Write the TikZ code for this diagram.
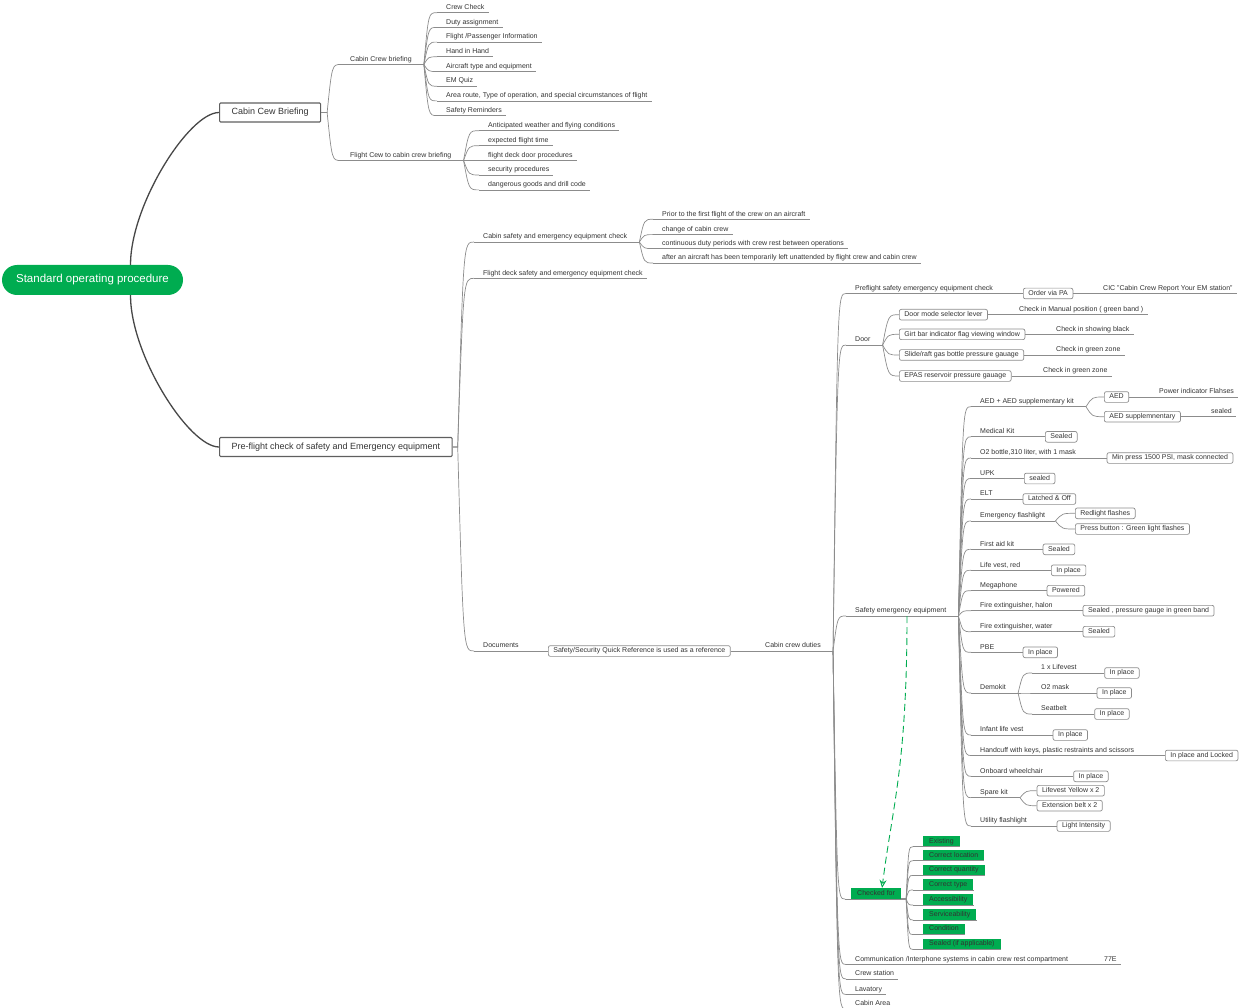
\documentclass[tikz,border=0pt]{standalone}
\usepackage{fontspec}
\setmainfont{Liberation Sans}
\usepackage{xcolor}
\usepackage{tikz}
\usetikzlibrary{positioning,arrows.meta,calc}

\definecolor{sopgreen}{RGB}{0,172,80}
\definecolor{inkgray}{RGB}{51,51,51}
\definecolor{wiregray}{RGB}{140,140,140}
\definecolor{framegray}{RGB}{95,95,95}

\begin{document}
\begin{tikzpicture}[
  x=1pt, y=-1pt,
  font=\fontsize{7}{8}\selectfont, text=inkgray,
  root/.style={fill=sopgreen, text=white, rounded corners=15pt, minimum height=30pt,
               minimum width=181pt, font=\fontsize{11.5}{13}\selectfont},
  topic/.style={draw=framegray, line width=1.1pt, rounded corners=1pt, anchor=west,
                minimum height=19pt, inner xsep=12pt, font=\fontsize{9}{11}\selectfont},
  uline/.style={draw=wiregray, line width=0.7pt},
  ul/.style={anchor=south west, inner xsep=0pt, inner ysep=1.5pt,
             text height=5.2pt, text depth=1.5pt,
             execute at begin node={\hspace*{9pt}},
             execute at end node={\hspace*{#1}},
             append after command={(\tikzlastnode.south west) edge[uline] (\tikzlastnode.south east)}},
  ul/.default=4pt,
  tag/.style={draw=wiregray, line width=0.7pt, rounded corners=2pt, anchor=west,
              inner xsep=5pt, inner ysep=2pt, text height=5.2pt, text depth=1.5pt},
  gtag/.style={fill=sopgreen, anchor=south west, inner xsep=6pt, inner ysep=2pt,
               text height=5.2pt, text depth=1.5pt,
               append after command={([xshift=-#1]\tikzlastnode.south west) edge[uline] (\tikzlastnode.south east)}},
  gtag/.default=10pt,
  br/.style={uline, to path={.. controls ($(\tikztostart|-\tikztotarget)!0.35!(\tikztotarget)$) .. (\tikztotarget) \tikztonodes}},
  trunk/.style={draw=black!72, line width=1.3pt},
  linkarr/.style={draw=sopgreen, line width=0.9pt, dash pattern=on 7pt off 4pt,
                  -{Stealth[open,length=8pt,width=7pt]}}
]
\useasboundingbox (0,0) rectangle (1240,1008);

% root and main topics
\node[root] (sop) at (92.5,280) {Standard operating procedure};
\node[topic] (ccb) at (219,112.5) {Cabin Cew Briefing};
\node[topic] (pre) at (219,447) {Pre-flight check of safety and Emergency equipment};

\draw[trunk] ([xshift=38pt]sop.north) .. controls +(0,-60) and +(-30,0) .. (ccb.west);
\draw[trunk] ([xshift=38pt]sop.south) .. controls +(0,60) and +(-30,0) .. (pre.west);

% Cabin Cew Briefing
\node[ul=12pt] (ccbr) at (341,64.5) {Cabin Crew briefing};
\node[ul=12pt] (fcbr) at (341,160.5) {Flight Cew to cabin crew briefing};
\draw[br] (ccb.east) -- ++(6,0) to (ccbr.south west);
\draw[br] (ccb.east) -- ++(6,0) to (fcbr.south west);

\node[ul] (cc1) at (437,12.7) {Crew Check};
\node[ul] (cc2) at (437,27.4) {Duty assignment};
\node[ul] (cc3) at (437,42.1) {Flight /Passenger Information};
\node[ul] (cc4) at (437,56.8) {Hand in Hand};
\node[ul] (cc5) at (437,71.5) {Aircraft type and equipment};
\node[ul] (cc6) at (437,86.2) {EM Quiz};
\node[ul] (cc7) at (437,100.9) {Area route, Type of operation, and special circumstances of flight};
\node[ul] (cc8) at (437,115.6) {Safety Reminders};
\draw[br] (ccbr.south east) to (cc1.south west);
\draw[br] (ccbr.south east) to (cc2.south west);
\draw[br] (ccbr.south east) to (cc3.south west);
\draw[br] (ccbr.south east) to (cc4.south west);
\draw[br] (ccbr.south east) to (cc5.south west);
\draw[br] (ccbr.south east) to (cc6.south west);
\draw[br] (ccbr.south east) to (cc7.south west);
\draw[br] (ccbr.south east) to (cc8.south west);

\node[ul] (fc1) at (479,130.7) {Anticipated weather and flying conditions};
\node[ul] (fc2) at (479,145.7) {expected flight time};
\node[ul] (fc3) at (479,160.5) {flight deck door procedures};
\node[ul] (fc4) at (479,175.0) {security procedures};
\node[ul] (fc5) at (479,189.9) {dangerous goods and drill code};
\draw[br] (fcbr.south east) to (fc1.south west);
\draw[br] (fcbr.south east) to (fc2.south west);
\draw[br] (fcbr.south east) to (fc3.south west);
\draw[br] (fcbr.south east) to (fc4.south west);
\draw[br] (fcbr.south east) to (fc5.south west);

% Pre-flight check
\node[ul=12pt] (csec) at (474,242) {Cabin safety and emergency equipment check};
\node[ul] (fdsec) at (474,278.3) {Flight deck safety and emergency equipment check};
\node[ul] (docs) at (474,651) {Documents};
\draw[br] (pre.east) -- ++(5,0) to (csec.south west);
\draw[br] (pre.east) -- ++(5,0) to (fdsec.south west);
\draw[br] (pre.east) -- ++(5,0) to (docs.south west);

\node[ul] (cs1) at (653,219.3) {Prior to the first flight of the crew on an aircraft};
\node[ul] (cs2) at (653,234.6) {change of cabin crew};
\node[ul] (cs3) at (653,248.6) {continuous duty periods with crew rest between operations};
\node[ul] (cs4) at (653,263) {after an aircraft has been temporarily left unattended by flight crew and cabin crew};
\draw[br] (csec.south east) to (cs1.south west);
\draw[br] (csec.south east) to (cs2.south west);
\draw[br] (csec.south east) to (cs3.south west);
\draw[br] (csec.south east) to (cs4.south west);

\node[tag] (sqr) at (548,651) {Safety/Security Quick Reference is used as a reference};
\node[ul=12pt] (ccd) at (756,651) {Cabin crew duties};
\draw[uline] (docs.south east) -- (sqr.west);
\draw[uline] (sqr.east) -- (ccd.south west);

% Cabin crew duties
\node[ul] (pfc) at (846,293.5) {Preflight safety emergency equipment check};
\node[ul=12pt] (door) at (846,345) {Door};
\node[ul=12pt] (see) at (846,616) {Safety emergency equipment};
\node[gtag=6pt] (chk) at (851,899) {Checked for};
\node[ul] (comm) at (846,964.5) {Communication /Interphone systems in cabin crew rest compartment};
\node[ul] (crew) at (846,979) {Crew station};
\node[ul] (lav) at (846,994.5) {Lavatory};
\node[ul] (carea) at (846,1009) {Cabin Area};
\draw[br] (ccd.south east) to (pfc.south west);
\draw[br] (ccd.south east) to (door.south west);
\draw[br] (ccd.south east) to (see.south west);
\draw[br] (ccd.south east) to ([xshift=-6pt]chk.south west);
\draw[br] (ccd.south east) to (comm.south west);
\draw[br] (ccd.south east) to (crew.south west);
\draw[br] (ccd.south east) to (lav.south west);
\draw[br] (ccd.south east) to (carea.south west);

\node[tag] (pa) at (1023,293.5) {Order via PA};
\node[ul] (cic) at (1094,293.5) {CIC "Cabin Crew Report Your EM station"};
\draw[uline] (pfc.south east) -- (pa.west);
\draw[uline] (pa.east) -- (cic.south west);

% Door
\node[tag] (dr1) at (899,314.7) {Door mode selector lever};
\node[tag] (dr2) at (899,334.3) {Girt bar indicator flag viewing window};
\node[tag] (dr3) at (899,355) {Slide/raft gas bottle pressure gauage};
\node[tag] (dr4) at (899,376) {EPAS reservoir pressure gauage};
\draw[br] (door.south east) to (dr1.west);
\draw[br] (door.south east) to (dr2.west);
\draw[br] (door.south east) to (dr3.west);
\draw[br] (door.south east) to (dr4.west);

\node[ul] (dk1) at (1010,314.7) {Check in Manual position ( green band )};
\node[ul] (dk2) at (1047,334.3) {Check in showing black};
\node[ul] (dk3) at (1047,355) {Check in green zone};
\node[ul] (dk4) at (1034,376) {Check in green zone};
\draw[uline] (dr1.east) -- (dk1.south west);
\draw[uline] (dr2.east) -- (dk2.south west);
\draw[uline] (dr3.east) -- (dk3.south west);
\draw[uline] (dr4.east) -- (dk4.south west);

% Safety emergency equipment
\node[ul=12pt] (aedkit) at (971,406.7) {AED + AED supplementary kit};
\node[ul] (medkit) at (971,436.8) {Medical Kit};
\node[ul] (otwo) at (971,458) {O2 bottle,310 liter, with 1 mask};
\node[ul] (upk) at (971,478.5) {UPK};
\node[ul] (elt) at (971,499) {ELT};
\node[ul=10pt] (eflash) at (971,521) {Emergency flashlight};
\node[ul] (fak) at (971,549.3) {First aid kit};
\node[ul] (lvr) at (971,570.3) {Life vest, red};
\node[ul] (mega) at (971,590.7) {Megaphone};
\node[ul] (fxh) at (971,610.7) {Fire extinguisher, halon};
\node[ul] (fxw) at (971,631.7) {Fire extinguisher, water};
\node[ul] (pbe) at (971,652.3) {PBE};
\node[ul=12pt] (demo) at (971,693) {Demokit};
\node[ul] (ilv) at (971,735) {Infant life vest};
\node[ul] (cuff) at (971,755.5) {Handcuff with keys, plastic restraints and scissors};
\node[ul] (wchair) at (971,776.3) {Onboard wheelchair};
\node[ul=12pt] (spare) at (971,797.7) {Spare kit};
\node[ul] (uflash) at (971,826) {Utility flashlight};
\draw[br] (see.south east) to (aedkit.south west);
\draw[br] (see.south east) to (medkit.south west);
\draw[br] (see.south east) to (otwo.south west);
\draw[br] (see.south east) to (upk.south west);
\draw[br] (see.south east) to (elt.south west);
\draw[br] (see.south east) to (eflash.south west);
\draw[br] (see.south east) to (fak.south west);
\draw[br] (see.south east) to (lvr.south west);
\draw[br] (see.south east) to (mega.south west);
\draw[br] (see.south east) to (fxh.south west);
\draw[br] (see.south east) to (fxw.south west);
\draw[br] (see.south east) to (pbe.south west);
\draw[br] (see.south east) to (demo.south west);
\draw[br] (see.south east) to (ilv.south west);
\draw[br] (see.south east) to (cuff.south west);
\draw[br] (see.south east) to (wchair.south west);
\draw[br] (see.south east) to (spare.south west);
\draw[br] (see.south east) to (uflash.south west);

\node[tag] (aed) at (1104,397) {AED};
\node[tag] (aedsup) at (1104,416.7) {AED supplemnentary};
\node[ul] (aedpw) at (1150,397) {Power indicator Flahses};
\node[ul] (aedsl) at (1202,416.7) {sealed};
\draw[br] (aedkit.south east) to (aed.west);
\draw[br] (aedkit.south east) to (aedsup.west);
\draw[uline] (aed.east) -- (aedpw.south west);
\draw[uline] (aedsup.east) -- (aedsl.south west);

\node[tag] (medbx) at (1045,436.8) {Sealed};
\node[tag] (otwobx) at (1106.7,458) {Min press 1500 PSI, mask connected};
\node[tag] (upkbx) at (1024,478.5) {sealed};
\node[tag] (eltbx) at (1022.7,499) {Latched \& Off};
\node[tag] (efred) at (1075,513.3) {Redlight flashes};
\node[tag] (efgrn) at (1075,529) {Press button : Green light flashes};
\node[tag] (fakbx) at (1042.7,549.3) {Sealed};
\node[tag] (lvrbx) at (1051,570.3) {In place};
\node[tag] (megabx) at (1046.7,590.7) {Powered};
\node[tag] (fxhbx) at (1082.7,610.7) {Sealed , pressure gauge in green band};
\node[tag] (fxwbx) at (1082.7,631.7) {Sealed};
\node[tag] (pbebx) at (1022.7,652.3) {In place};
\draw[uline] (medkit.south east) -- (medbx.west);
\draw[uline] (otwo.south east) -- (otwobx.west);
\draw[uline] (upk.south east) -- (upkbx.west);
\draw[uline] (elt.south east) -- (eltbx.west);
\draw[br] (eflash.south east) to (efred.west);
\draw[br] (eflash.south east) to (efgrn.west);
\draw[uline] (fak.south east) -- (fakbx.west);
\draw[uline] (lvr.south east) -- (lvrbx.west);
\draw[uline] (mega.south east) -- (megabx.west);
\draw[uline] (fxh.south east) -- (fxhbx.west);
\draw[uline] (fxw.south east) -- (fxwbx.west);
\draw[uline] (pbe.south east) -- (pbebx.west);

\node[ul] (demo1) at (1032,673) {1 x Lifevest};
\node[ul] (demo2) at (1032,693) {O2 mask};
\node[ul] (demo3) at (1032,714) {Seatbelt};
\node[tag] (demo1bx) at (1104.3,673) {In place};
\node[tag] (demo2bx) at (1096.7,693) {In place};
\node[tag] (demo3bx) at (1094.3,714) {In place};
\draw[br] (demo.south east) to (demo1.south west);
\draw[br] (demo.south east) to (demo2.south west);
\draw[br] (demo.south east) to (demo3.south west);
\draw[uline] (demo1.south east) -- (demo1bx.west);
\draw[uline] (demo2.south east) -- (demo2bx.west);
\draw[uline] (demo3.south east) -- (demo3bx.west);

\node[tag] (ilvbx) at (1052.7,735) {In place};
\node[tag] (cuffbx) at (1165,755.5) {In place and Locked};
\node[tag] (wchairbx) at (1073.3,776.3) {In place};
\node[tag] (spare1) at (1036.7,790.7) {Lifevest Yellow x 2};
\node[tag] (spare2) at (1036.7,805.7) {Extension belt x 2};
\node[tag] (uflashbx) at (1056.7,826) {Light Intensity};
\draw[uline] (ilv.south east) -- (ilvbx.west);
\draw[uline] (cuff.south east) -- (cuffbx.west);
\draw[uline] (wchair.south east) -- (wchairbx.west);
\draw[br] (spare.south east) to (spare1.west);
\draw[br] (spare.south east) to (spare2.west);
\draw[uline] (uflash.south east) -- (uflashbx.west);

% Checked for
\node[gtag] (chk1) at (923,846.7) {Existing};
\node[gtag] (chk2) at (923,860.7) {Correct location};
\node[gtag] (chk3) at (923,875.4) {Correct quantity};
\node[gtag] (chk4) at (923,890) {Correct type};
\node[gtag] (chk5) at (923,905) {Accessibility};
\node[gtag] (chk6) at (923,920) {Serviceability};
\node[gtag] (chk7) at (923,934.6) {Condition};
\node[gtag] (chk8) at (923,949.5) {Sealed (if applicable)};
\draw[br] (chk.south east) -- ++(5,0) to ([xshift=-10pt]chk1.south west);
\draw[br] (chk.south east) -- ++(5,0) to ([xshift=-10pt]chk2.south west);
\draw[br] (chk.south east) -- ++(5,0) to ([xshift=-10pt]chk3.south west);
\draw[br] (chk.south east) -- ++(5,0) to ([xshift=-10pt]chk4.south west);
\draw[br] (chk.south east) -- ++(5,0) to ([xshift=-10pt]chk5.south west);
\draw[br] (chk.south east) -- ++(5,0) to ([xshift=-10pt]chk6.south west);
\draw[br] (chk.south east) -- ++(5,0) to ([xshift=-10pt]chk7.south west);
\draw[br] (chk.south east) -- ++(5,0) to ([xshift=-10pt]chk8.south west);

\node[ul] (e77) at (1095,964.5) {77E};
\draw[uline] (comm.south east) -- (e77.south west);

% relation
\draw[linkarr] ([xshift=61pt]see.south west) .. controls +(0,150) and +(10,-80) .. ([xshift=6pt]chk.north);
\end{tikzpicture}
\end{document}
